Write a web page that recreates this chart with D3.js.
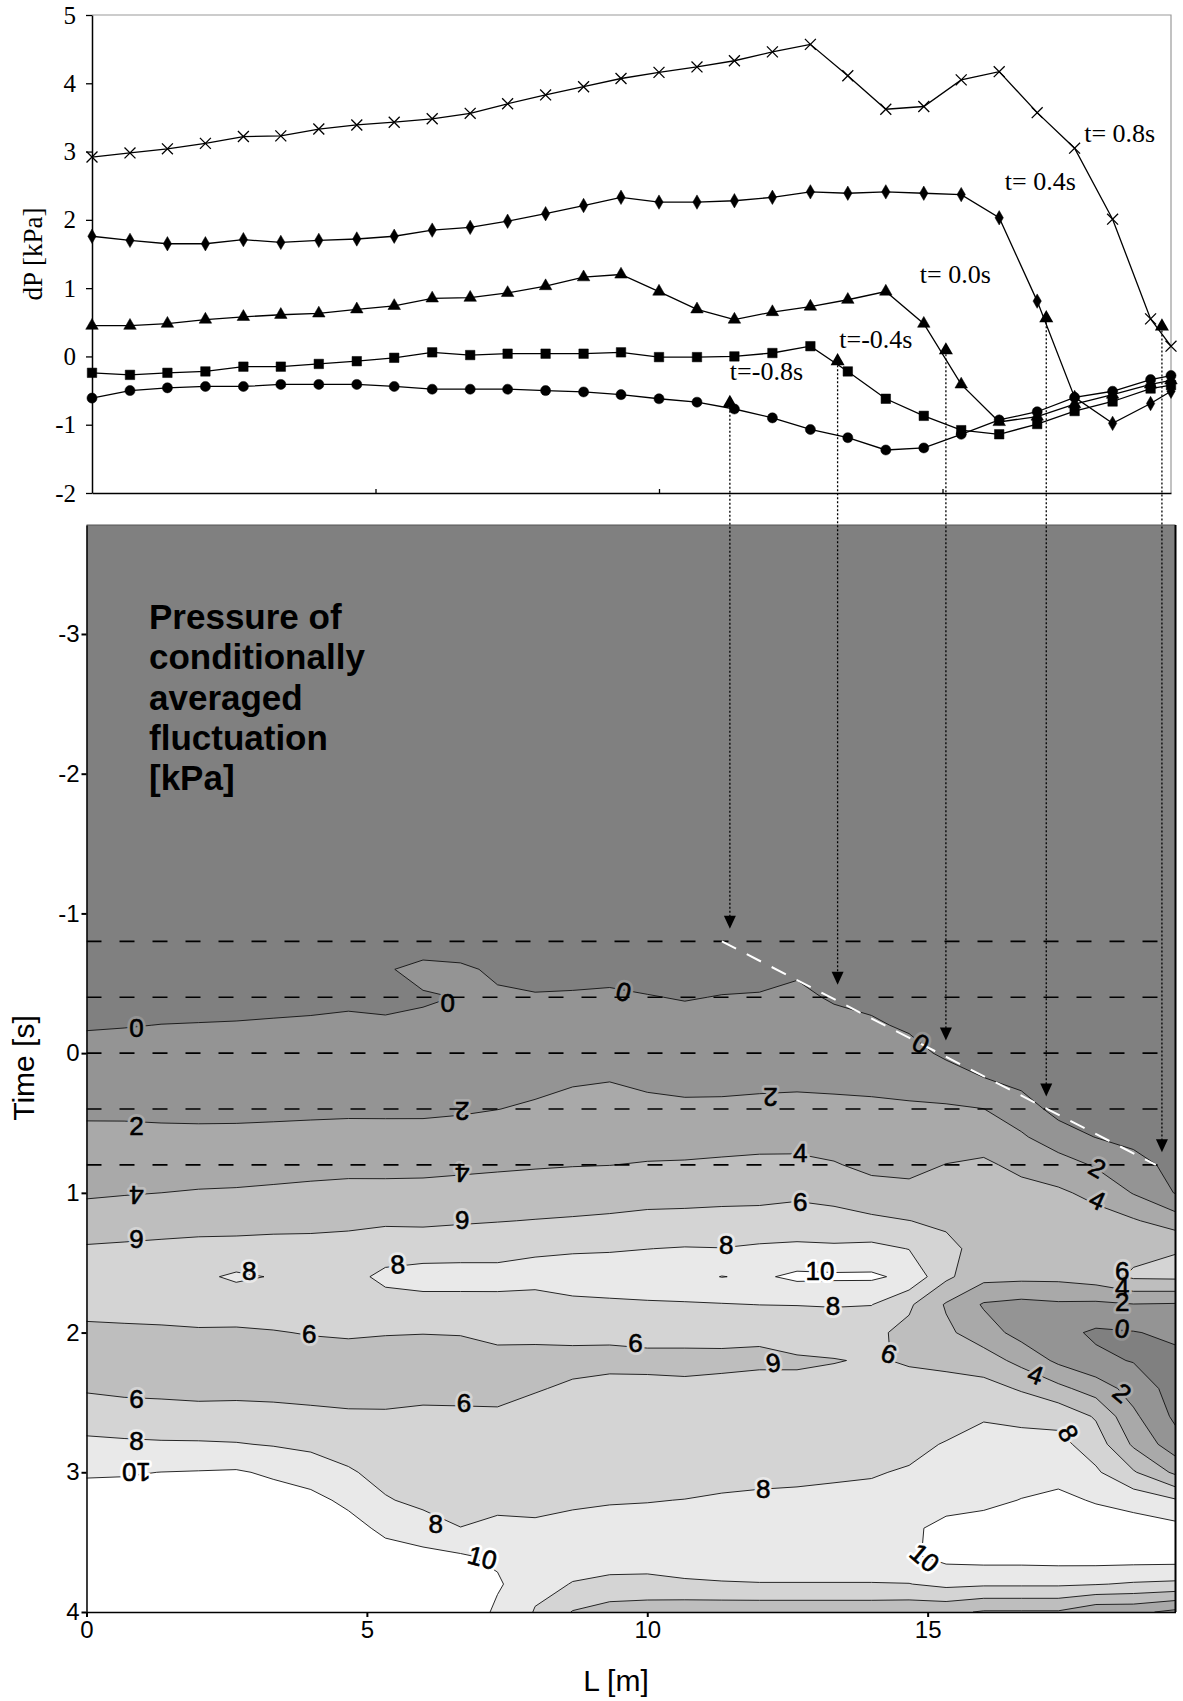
<!DOCTYPE html>
<html>
<head>
<meta charset="utf-8">
<title>conditionally averaged pressure</title>
<style>
  body { margin: 0; background: #fff; }
  svg { display: block; }
  .serif { font-family: "Liberation Serif", "Times New Roman", serif; }
  .sans { font-family: "Liberation Sans", Arial, sans-serif; }
</style>
</head>
<body>
<div id="chart"></div>
<script src="https://cdnjs.cloudflare.com/ajax/libs/d3/7.8.5/d3.min.js"></script>
<script>
// ---------- top panel: dP along L for five instants ----------
var posL = [0, 0.67, 1.33, 2.0, 2.67, 3.33, 4.0, 4.67, 5.33, 6.0, 6.67, 7.33, 8.0, 8.67, 9.33,
            10.0, 10.67, 11.33, 12.0, 12.67, 13.33, 14.0, 14.67, 15.33, 16.0, 16.67, 17.33, 18.0, 18.67, 19.03];
var dpM08 = [-0.61, -0.50, -0.46, -0.44, -0.44, -0.41, -0.41, -0.41, -0.44, -0.48, -0.48, -0.48, -0.50, -0.52, -0.56,
             -0.62, -0.67, -0.77, -0.90, -1.07, -1.19, -1.37, -1.34, -1.14, -0.93, -0.81, -0.60, -0.51, -0.34, -0.28];
var dpM04 = [-0.24, -0.27, -0.24, -0.22, -0.15, -0.15, -0.11, -0.07, -0.02, 0.06, 0.02, 0.04, 0.04, 0.04, 0.06,
             -0.01, -0.01, 0.00, 0.05, 0.15, -0.22, -0.62, -0.87, -1.08, -1.14, -0.99, -0.80, -0.66, -0.47, -0.42];
var dp00 = [0.45, 0.45, 0.48, 0.54, 0.58, 0.61, 0.63, 0.69, 0.74, 0.85, 0.86, 0.93, 1.03, 1.16, 1.20,
            0.95, 0.69, 0.54, 0.65, 0.73, 0.83, 0.95, 0.48, -0.41, -0.96, -0.88, -0.70, -0.56, -0.41, -0.35];
var dp04 = [1.76, 1.70, 1.65, 1.65, 1.71, 1.67, 1.70, 1.72, 1.76, 1.85, 1.89, 1.98, 2.09, 2.21, 2.33,
            2.26, 2.26, 2.28, 2.33, 2.41, 2.39, 2.41, 2.39, 2.37, 2.03, 0.81, -0.60, -0.98, -0.69, -0.51];
var dp08 = [2.92, 2.98, 3.04, 3.12, 3.22, 3.23, 3.33, 3.39, 3.43, 3.48, 3.56, 3.70, 3.83, 3.95, 4.07,
            4.16, 4.24, 4.33, 4.46, 4.57, 4.11, 3.62, 3.66, 4.05, 4.17, 3.57, 3.05, 2.01, 0.55, 0.15];

var curveNames = ["t=-0.8s", "t=-0.4s", "t= 0.0s", "t= 0.4s", "t= 0.8s"];
var curveLabelL = [11.25, 13.18, 14.6, 16.1, 17.5];
var curveLabelDP = [-0.34, 0.13, 1.07, 2.43, 3.14];

// pressure front for each instant (marker on the curve, arrow down to the map)
var frontT = [-0.8, -0.4, 0.0, 0.4, 0.8];
var frontL = [11.25, 13.15, 15.06, 16.83, 18.87];
var frontDP = [-0.68, -0.07, 0.09, 0.56, 0.44];

// ---------- bottom panel: contour map of the fluctuation ----------
var gridL = [0, 0.67, 1.33, 2.0, 2.67, 3.33, 4.0, 4.67, 5.33, 6.0, 6.67, 7.33, 8.0, 8.67, 9.33,
             10.0, 10.67, 11.33, 12.0, 12.67, 13.33, 14.0, 14.67, 15.33, 16.0, 16.67, 17.33, 18.0, 18.67, 19.42];
var gridT = [-3.78, -1.0, -0.8, -0.6, -0.4, -0.2, 0, 0.2, 0.4, 0.6, 0.8, 1.0, 1.2, 1.4,
             1.6, 1.8, 2.0, 2.2, 2.4, 2.6, 2.8, 3.0, 3.2, 3.4, 3.6, 3.8, 4.0];
// one column per L position, values down the time axis [kPa]
var zCols = [
  [-2, -2, -1.97, -1.35, -0.74, -0.12, 0.49, 1.11, 1.72, 2.38, 3.07, 3.76, 4.87, 6.2, 7.3, 6.6, 5.6, 5.1, 5.8, 7.07, 8.41, 9.79, 10.8, 11.5, 12, 12, 12],
  [-2, -2, -1.9, -1.25, -0.65, -0.06, 0.53, 1.12, 1.71, 2.38, 3.13, 3.89, 5.06, 6.3, 7.4, 6.6, 5.7, 5.1, 5.6, 6.87, 8.3, 9.85, 10.8, 11.5, 12, 12, 12],
  [-2, -2, -1.7, -1.1, -0.55, 0.02, 0.55, 1.11, 1.67, 2.33, 3.17, 4.0, 5.21, 6.4, 7.5, 6.8, 5.7, 5.1, 5.5, 6.83, 8.2, 10.02, 10.9, 11.5, 12, 12, 12],
  [-2, -2, -1.6, -1.0, -0.48, 0.05, 0.59, 1.12, 1.65, 2.31, 3.2, 4.12, 5.33, 6.5, 7.63, 6.9, 5.8, 5.1, 5.4, 6.71, 8.19, 10.1, 11, 11.6, 12, 12, 12],
  [-2, -2, -1.5, -0.97, -0.45, 0.08, 0.61, 1.13, 1.66, 2.32, 3.23, 4.18, 5.4, 6.5, 8.3, 6.8, 5.8, 5.1, 5.45, 6.73, 8.1, 10.2, 11, 11.6, 12, 12, 12],
  [-2, -2, -1.45, -0.93, -0.39, 0.13, 0.65, 1.17, 1.69, 2.37, 3.3, 4.3, 5.45, 6.6, 7.9, 7.0, 5.9, 5.2, 5.4, 6.63, 7.88, 9.7, 10.9, 11.5, 12, 12, 12],
  [-2, -2, -1.4, -0.9, -0.34, 0.18, 0.69, 1.2, 1.72, 2.43, 3.38, 4.44, 5.5, 6.6, 7.2, 7.0, 6.1, 5.2, 5.3, 6.46, 7.6, 9.04, 10.6, 11.3, 12, 12, 12],
  [-2, -2, -1.3, -0.75, -0.25, 0.25, 0.75, 1.25, 1.75, 2.49, 3.46, 4.56, 5.6, 6.7, 7.17, 7.0, 6.2, 5.3, 5.2, 6.3, 7.23, 8.2, 9.53, 10.8, 11.6, 12, 12],
  [-2, -2, -1.4, -0.1, -0.35, 0.2, 0.72, 1.23, 1.74, 2.49, 3.46, 4.55, 5.8, 6.8, 8.6, 7.0, 6.1, 5.2, 5.3, 6.24, 6.85, 7.45, 8.14, 9.5, 10.9, 11.8, 12],
  [-2, -1.5, -0.6, 0.3, -0.1, 0.18, 0.7, 1.22, 1.74, 2.5, 3.5, 4.57, 5.71, 7.0, 8.9, 7.2, 6.05, 5.2, 5.6, 6.27, 6.75, 7.2, 7.6, 8.76, 10.6, 11.7, 12],
  [-2, -1.5, -0.5, 0.15, 0.03, 0.26, 0.78, 1.3, 1.82, 2.63, 3.61, 4.69, 5.83, 7.1, 8.9, 7.2, 6.1, 5.2, 5.6, 6.24, 6.68, 7.12, 7.56, 8.02, 10.2, 11.5, 12],
  [-2, -2, -1.5, -0.15, 0.12, 0.58, 1.05, 1.51, 1.98, 2.84, 3.73, 4.8, 5.94, 7.2, 8.8, 7.3, 6.4, 5.5, 5.55, 6.23, 6.7, 7.2, 7.65, 8.3, 9.6, 10.3, 9.5],
  [-2, -1.4, -0.9, -0.45, 0.1, 0.61, 1.11, 1.62, 2.2, 3.02, 3.84, 4.91, 6.06, 7.7, 8.7, 7.2, 6.3, 5.6, 5.9, 6.5, 6.85, 7.3, 7.75, 8.15, 8.5, 8.4, 7.9],
  [-2, -1.6, -1.0, -0.43, 0.14, 0.71, 1.29, 1.86, 2.53, 3.23, 3.93, 5.03, 6.17, 7.8, 8.9, 7.6, 6.35, 5.6, 6.2, 6.6, 7.01, 7.42, 7.84, 8.3, 8.5, 7.95, 5.9],
  [-2, -1.6, -0.99, -0.39, 0.21, 0.81, 1.4, 1.98, 2.67, 3.33, 3.98, 5.14, 6.3, 7.85, 9.0, 7.7, 6.2, 5.75, 6.27, 6.68, 7.09, 7.5, 7.92, 8.4, 8.6, 7.7, 5.0],
  [-2, -1.6, -1.05, -0.5, 0.06, 0.61, 1.17, 1.72, 2.42, 3.25, 4.11, 5.26, 6.5, 7.98, 9.1, 7.8, 6.5, 5.6, 6.4, 6.61, 7.06, 7.51, 7.96, 8.4, 8.7, 7.6, 4.8],
  [-2, -1.7, -1.2, -0.65, -0.08, 0.48, 1.04, 1.61, 2.28, 3.21, 4.17, 5.31, 6.55, 8.1, 9.3, 7.85, 6.5, 5.6, 6.3, 6.58, 7.06, 7.54, 8.02, 8.5, 8.8, 7.8, 4.6],
  [-2, -1.6, -1.05, -0.5, 0.05, 0.58, 1.11, 1.63, 2.29, 3.27, 4.29, 5.43, 6.6, 8.05, 10.05, 7.9, 6.4, 5.7, 6.35, 6.72, 7.19, 7.65, 8.12, 8.6, 8.8, 7.9, 4.6],
  [-2, -1.6, -1.05, -0.5, 0.11, 0.63, 1.16, 1.68, 2.39, 3.37, 4.39, 5.5, 6.6, 8.3, 9.7, 8.02, 6.2, 5.8, 6.4, 6.8, 7.26, 7.72, 8.18, 8.6, 8.8, 7.95, 4.6],
  [-2, -1.5, -1.1, -0.19, 0.29, 0.77, 1.25, 1.73, 2.43, 3.38, 4.41, 5.59, 6.93, 8.36, 10.4, 8.05, 6.6, 5.85, 6.3, 6.91, 7.35, 7.78, 8.2, 8.6, 8.8, 7.95, 4.6],
  [-2, -1.6, -1.0, -0.55, -0.15, 0.45, 1.06, 1.67, 2.38, 3.23, 4.12, 5.29, 6.76, 8.3, 10.3, 8.15, 6.6, 5.95, 6.4, 6.9, 7.4, 7.85, 8.25, 8.6, 8.8, 7.95, 4.6],
  [-2, -1.8, -1.6, -1.15, -0.45, 0.24, 0.93, 1.62, 2.3, 2.95, 3.61, 4.64, 6.4, 8.5, 10.3, 8.05, 6.4, 6.1, 6.45, 6.9, 7.45, 7.9, 8.35, 8.7, 8.8, 7.95, 4.6],
  [-2, -1.6, -1.2, -0.9, -0.6, -0.26, 0.6, 1.45, 2.23, 2.89, 3.54, 4.46, 6.02, 7.95, 9.55, 6.3, 5.5, 5.9, 6.35, 6.8, 7.6, 8.13, 9.0, 9.8, 9.7, 7.95, 4.5],
  [-2, -1.8, -1.6, -1.3, -0.95, -0.65, -0.33, 1.0, 2.23, 3.14, 4.04, 4.86, 5.67, 6.5, 6.4, 3.8, 4.4, 5.6, 6.6, 7.3, 8.1, 8.9, 9.6, 10.3, 10.6, 8.5, 4.5],
  [-2, -1.8, -1.6, -1.4, -1.3, -1.2, -1.2, 0.18, 2.02, 3.18, 4.3, 4.9, 5.3, 5.3, 4.6, 1.8, 2.9, 4.95, 6.7, 7.9, 8.4, 8.9, 9.6, 10.7, 10.8, 8.3, 3.8],
  [-2, -1.8, -1.6, -1.5, -1.4, -1.3, -1.3, -0.48, 0.9, 2.26, 3.55, 4.6, 5.1, 5.2, 4.5, 1.4, 1.3, 3.4, 5.8, 7.6, 8.6, 9.3, 10.05, 10.8, 10.8, 8.3, 3.8],
  [-2, -1.9, -1.8, -1.7, -1.6, -1.5, -1.4, -1.0, -0.6, 0.9, 2.87, 4.3, 4.9, 5.0, 4.5, 1.7, 0.6, 1.6, 4.5, 7.4, 8.6, 9.4, 10.4, 11, 10.9, 8.3, 3.8],
  [-2, -2, -1.9, -1.8, -1.7, -1.6, -1.5, -1.3, -0.9, -0.05, 1.8, 3.5, 4.7, 5.9, 5.0, 1.6, -0.3, 0.4, 3.1, 5.8, 7.0, 8.3, 9.85, 11, 11, 8.1, 2.5],
  [-2, -2, -2, -1.9, -1.8, -1.7, -1.6, -1.4, -1.1, -0.6, 0.74, 1.89, 4.2, 5.4, 6.3, 1.9, -0.1, -0.1, 1.2, 2.4, 3.7, 6.2, 9.2, 11, 11, 7.8, 2.5],
  [-2, -2, -2, -2, -1.9, -1.8, -1.7, -1.5, -1.2, -0.9, -0.6, -0.1, 3.0, 5.9, 6.4, 1.8, 0.4, -0.5, -0.8, -0.4, 0.8, 3.6, 8.2, 10.6, 11, 7.6, 1.5]
];
var levels = [0, 2, 4, 6, 8, 10];
var levelFill = ["#949494", "#a9a9a9", "#bebebe", "#d4d4d4", "#e9e9e9", "#ffffff"];
var belowFill = "#808080";

var instantLines = [-0.8, -0.4, 0, 0.4, 0.8];
var frontLine = [[11.33, -0.8], [19.07, 0.8]];

// contour labels: L, t, text, rotation
var contourLabels = [
  [0.89, -0.18, "0", 0], [6.44, -0.36, "0", 0], [9.58, -0.44, "0", 15], [14.88, -0.07, "0", 30],
  [0.89, 0.52, "2", 0], [6.7, 0.42, "2", 180], [12.2, 0.32, "2", 180],
  [0.89, 1.02, "4", 180], [6.7, 0.86, "4", 180], [12.73, 0.71, "4", 0],
  [18.03, 0.82, "2", 30], [18.03, 1.05, "4", 25], [12.73, 1.06, "6", 0],
  [0.89, 1.33, "6", 180], [6.7, 1.2, "6", 180],
  [2.9, 1.56, "8", 0], [5.55, 1.51, "8", -5], [11.41, 1.37, "8", 0],
  [13.08, 1.56, "10", 0], [13.31, 1.81, "8", 0],
  [3.97, 2.01, "6", 0], [9.79, 2.07, "6", 0], [12.25, 2.22, "6", 170], [14.31, 2.15, "6", 20],
  [18.47, 1.56, "6", 0], [18.47, 1.67, "4", 0], [18.47, 1.78, "2", 0], [18.47, 1.97, "0", 10],
  [16.93, 2.3, "4", 20], [18.47, 2.43, "2", 40],
  [0.89, 2.47, "6", 0], [6.73, 2.5, "6", 0], [0.89, 2.77, "8", 0], [17.51, 2.72, "8", 60],
  [0.89, 3.0, "10", 180], [12.07, 3.12, "8", 0], [6.23, 3.37, "8", 0],
  [7.06, 3.61, "10", 15], [14.95, 3.61, "10", 40]
];
var titleLines = ["Pressure of", "conditionally", "averaged", "fluctuation", "[kPa]"];

// ---------- layout ----------
var W = 1183, H = 1701;
var svg = d3.select("#chart").append("svg").attr("width", W).attr("height", H);

var xT = d3.scaleLinear().domain([0, 19.03]).range([92, 1171]);
var yT = d3.scaleLinear().domain([-2, 5]).range([493, 15]);
var xB = d3.scaleLinear().domain([0, 19.42]).range([86.5, 1175.5]);
var yB = d3.scaleLinear().domain([-3.78, 4]).range([525, 1612]);

// ===== bottom panel =====
var defs = svg.append("defs");
defs.append("clipPath").attr("id", "mapclip").append("rect")
  .attr("x", xB(0)).attr("y", yB(-3.78))
  .attr("width", xB(19.42) - xB(0)).attr("height", yB(4) - yB(-3.78));

var map = svg.append("g").attr("clip-path", "url(#mapclip)");
map.append("rect")
  .attr("x", xB(0)).attr("y", yB(-3.78))
  .attr("width", xB(19.42) - xB(0)).attr("height", yB(4) - yB(-3.78))
  .attr("fill", belowFill);

// padded grid so the outer ring of every band lies outside the clip
var nx = gridL.length, ny = gridT.length;
var px = nx + 2, py = ny + 2;
var vals = new Array(px * py);
for (var j = 0; j < py; j++) {
  var jj = Math.min(ny - 1, Math.max(0, j - 1));
  for (var i = 0; i < px; i++) {
    var ii = Math.min(nx - 1, Math.max(0, i - 1));
    vals[j * px + i] = zCols[ii][jj];
  }
}
var idxL = d3.scaleLinear().domain(d3.range(-1, nx + 1))
  .range([gridL[0] - 0.7].concat(gridL, [gridL[nx - 1] + 0.7]));
var idxT = d3.scaleLinear().domain(d3.range(-1, ny + 1))
  .range([gridT[0] - 0.3].concat(gridT, [gridT[ny - 1] + 0.3]));

var bands = d3.contours().size([px, py]).thresholds(levels)(vals);

function ringPath(geom) {
  return geom.coordinates.map(function(poly) {
    return poly.map(function(ring) {
      return "M" + ring.map(function(p) {
        return xB(idxL(p[0] - 1.5)).toFixed(1) + "," + yB(idxT(p[1] - 1.5)).toFixed(1);
      }).join("L") + "Z";
    }).join("");
  }).join("");
}

map.selectAll("path.band").data(bands).enter().append("path")
  .attr("class", "band")
  .attr("d", ringPath)
  .attr("fill", function(d, k) { return levelFill[k]; })
  .attr("fill-rule", "evenodd");

map.selectAll("path.iso").data(bands).enter().append("path")
  .attr("class", "iso")
  .attr("d", ringPath)
  .attr("fill", "none")
  .attr("stroke", "#111")
  .attr("stroke-width", 0.9);

function labelPos(d) {
  return "translate(" + xB(d[0]) + "," + yB(d[1]) + ") rotate(" + d[3] + ")";
}
// gap in the isoline under each label
map.selectAll("text.halo").data(contourLabels).enter().append("text")
  .attr("class", "sans halo")
  .attr("transform", labelPos)
  .attr("text-anchor", "middle").attr("dy", "0.36em").attr("font-size", 26)
  .attr("fill", "none")
  .attr("stroke", function(d) { return levelFill[levels.indexOf(+d[2])]; })
  .attr("stroke-width", 6).attr("stroke-linejoin", "round")
  .text(function(d) { return d[2]; });

// instants of the upper panel
map.selectAll("line.inst").data(instantLines).enter().append("line")
  .attr("x1", xB(0)).attr("x2", xB(19.42))
  .attr("y1", function(d) { return yB(d); }).attr("y2", function(d) { return yB(d); })
  .attr("stroke", "#000").attr("stroke-width", 1.6).attr("stroke-dasharray", "15,18");

map.append("path")
  .attr("d", d3.line().x(function(d) { return xB(d[0]); }).y(function(d) { return yB(d[1]); })(frontLine))
  .attr("stroke", "#fff").attr("stroke-width", 2).attr("stroke-dasharray", "16,12").attr("fill", "none");

map.selectAll("text.clab").data(contourLabels).enter().append("text")
  .attr("class", "sans clab")
  .attr("transform", labelPos)
  .attr("text-anchor", "middle").attr("dy", "0.36em").attr("font-size", 26)
  .attr("fill", "#000")
  .attr("stroke", "#000").attr("stroke-width", 0.6)
  .text(function(d) { return d[2]; });

// title block
svg.append("text").attr("class", "sans")
  .attr("x", 149).attr("y", 629)
  .attr("font-size", 35).attr("font-weight", "bold").attr("fill", "#000")
  .selectAll("tspan").data(titleLines).enter().append("tspan")
  .attr("x", 149).attr("dy", function(d, k) { return k === 0 ? 0 : 40.3; })
  .text(function(d) { return d; });

// frame of the map
svg.append("line").attr("x1", xB(0)).attr("x2", xB(19.42)).attr("y1", yB(-3.78)).attr("y2", yB(-3.78))
  .attr("stroke", "#555").attr("stroke-width", 1);
svg.append("line").attr("x1", xB(19.42)).attr("x2", xB(19.42)).attr("y1", yB(-3.78)).attr("y2", yB(4))
  .attr("stroke", "#000").attr("stroke-width", 2);

var axB = svg.append("g").attr("class", "sans").attr("transform", "translate(0," + yB(4) + ")")
  .call(d3.axisBottom(xB).tickValues([0, 5, 10, 15]).tickSize(5).tickSizeOuter(0).tickPadding(4)
    .tickFormat(function(d) { return String(d); }));
var ayB = svg.append("g").attr("class", "sans").attr("transform", "translate(" + xB(0) + ",0)")
  .call(d3.axisLeft(yB).tickValues([-3, -2, -1, 0, 1, 2, 3, 4]).tickSize(5).tickSizeOuter(0).tickPadding(2)
    .tickFormat(function(d) { return String(d); }));
[axB, ayB].forEach(function(a) {
  a.selectAll("text").attr("font-size", 24).attr("fill", "#000").style("font-family", "'Liberation Sans', Arial, sans-serif");
  a.selectAll("line").attr("stroke", "#000").attr("stroke-width", 2);
  a.select(".domain").attr("stroke", "#000").attr("stroke-width", 1.5);
});

svg.append("text").attr("class", "sans")
  .attr("transform", "translate(34,1068) rotate(-90)")
  .attr("text-anchor", "middle").attr("font-size", 30).attr("fill", "#000")
  .text("Time [s]");
svg.append("text").attr("class", "sans")
  .attr("x", 616).attr("y", 1691)
  .attr("text-anchor", "middle").attr("font-size", 30).attr("fill", "#000")
  .text("L [m]");

// ===== top panel =====
svg.append("path")
  .attr("d", "M" + xT(0) + "," + yT(5) + "H" + xT(19.03) + "V" + yT(-2))
  .attr("fill", "none").attr("stroke", "#9a9a9a").attr("stroke-width", 1.2);

var axT = svg.append("g").attr("class", "serif").attr("transform", "translate(0," + yT(-2) + ")")
  .call(d3.axisBottom(xT).tickValues([5, 10, 15]).tickSize(-4).tickSizeOuter(0).tickFormat(""));
var ayT = svg.append("g").attr("class", "serif").attr("transform", "translate(" + xT(0) + ",0)")
  .call(d3.axisLeft(yT).tickValues([-2, -1, 0, 1, 2, 3, 4, 5]).tickSize(6).tickSizeOuter(0).tickPadding(10)
    .tickFormat(function(d) { return String(d); }));
[axT, ayT].forEach(function(a) {
  a.selectAll("text").attr("font-size", 25).attr("fill", "#000").style("font-family", "'Liberation Serif', 'Times New Roman', serif");
  a.selectAll("line").attr("stroke", "#000").attr("stroke-width", 1.3);
  a.select(".domain").attr("stroke", "#000").attr("stroke-width", 1.5);
});

svg.append("text").attr("class", "serif")
  .attr("transform", "translate(42,254) rotate(-90)")
  .attr("text-anchor", "middle").attr("font-size", 27).attr("fill", "#000")
  .text("dP [kPa]");

// dotted arrows from the pressure front down to the map
var arrows = svg.append("g");
frontL.forEach(function(l, k) {
  var x = xT(l), y0 = yT(frontDP[k]), yTip = yB(frontT[k] - 0.09);
  arrows.append("line").attr("x1", x).attr("x2", x).attr("y1", y0).attr("y2", yTip - 10)
    .attr("stroke", "#000").attr("stroke-width", 1.3).attr("stroke-dasharray", "2,2");
  arrows.append("path")
    .attr("d", "M" + (x - 6) + "," + (yTip - 13) + "L" + (x + 6) + "," + (yTip - 13) + "L" + x + "," + yTip + "Z")
    .attr("fill", "#000");
});

var timesSym = d3.symbolTimes || d3.symbolX || d3.symbolCross;
var series = [
  { v: dpM08, sym: d3.symbolCircle, size: 80, stroke: false },
  { v: dpM04, sym: d3.symbolSquare, size: 90, stroke: false },
  { v: dp00, sym: d3.symbolTriangle, size: 68, stroke: false },
  { v: dp04, sym: d3.symbolDiamond, size: 60, stroke: false },
  { v: dp08, sym: timesSym, size: 80, stroke: true }
];
var lineT = d3.line().x(function(d) { return xT(d[0]); }).y(function(d) { return yT(d[1]); });

series.forEach(function(s) {
  var pts = posL.map(function(l, k) { return [l, s.v[k]]; });
  var g = svg.append("g");
  g.append("path").attr("d", lineT(pts)).attr("fill", "none").attr("stroke", "#000").attr("stroke-width", 1.3);
  g.selectAll("path.mk").data(pts).enter().append("path")
    .attr("class", "mk")
    .attr("transform", function(d) { return "translate(" + xT(d[0]) + "," + yT(d[1]) + ")"; })
    .attr("d", d3.symbol().type(s.sym).size(s.size))
    .attr("fill", s.stroke ? "none" : "#000")
    .attr("stroke", "#000").attr("stroke-width", s.stroke ? 1.3 : 0.5);
});

// front markers
svg.selectAll("path.front").data(frontL).enter().append("path")
  .attr("class", "front")
  .attr("transform", function(d, k) { return "translate(" + xT(d) + "," + yT(frontDP[k]) + ")"; })
  .attr("d", d3.symbol().type(d3.symbolTriangle).size(85))
  .attr("fill", "#000");

svg.selectAll("text.cname").data(curveNames).enter().append("text")
  .attr("class", "serif cname")
  .attr("x", function(d, k) { return xT(curveLabelL[k]); })
  .attr("y", function(d, k) { return yT(curveLabelDP[k]); })
  .attr("font-size", 26).attr("fill", "#000")
  .text(function(d) { return d; });
</script>
</body>
</html>
